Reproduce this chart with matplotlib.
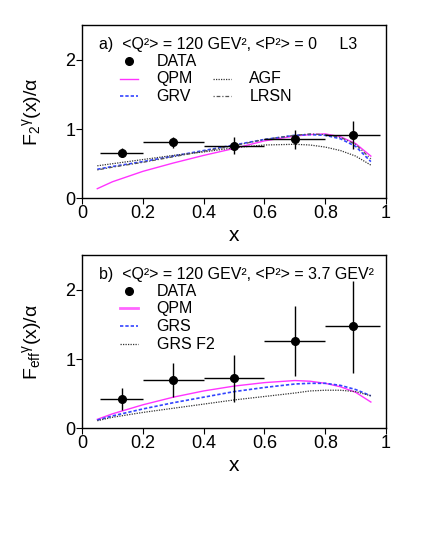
import matplotlib
matplotlib.use('Agg')
import matplotlib.pyplot as plt
import numpy as np

plt.rcParams['font.family'] = ['Liberation Sans', 'DejaVu Sans']
plt.rcParams['mathtext.fontset'] = 'custom'
plt.rcParams['mathtext.rm'] = 'Liberation Sans'
plt.rcParams['mathtext.it'] = 'Liberation Sans'

# data points (same x bins in both panels)
x_data = [0.13, 0.30, 0.50, 0.70, 0.89]
x_lo = [0.06, 0.20, 0.40, 0.60, 0.80]
x_hi = [0.20, 0.40, 0.60, 0.80, 0.98]

# panel a: F2 at P2 = 0
f2_data = [0.66, 0.81, 0.76, 0.85, 0.91]
f2_err = [0.07, 0.08, 0.12, 0.14, 0.20]

# panel b: Feff at P2 = 3.7
feff_data = [0.42, 0.70, 0.72, 1.26, 1.47]
feff_lo = [0.26, 0.45, 0.38, 0.75, 0.80]
feff_hi = [0.58, 0.95, 1.06, 1.77, 2.13]

# theory curves
x_curve = [0.05, 0.10, 0.20, 0.30, 0.40, 0.50, 0.60, 0.70, 0.75, 0.80, 0.85, 0.90, 0.95]
qpm_a = [0.14, 0.24, 0.39, 0.51, 0.62, 0.72, 0.83, 0.90, 0.92, 0.93, 0.89, 0.79, 0.61]
grv_a = [0.42, 0.46, 0.53, 0.61, 0.69, 0.77, 0.85, 0.91, 0.92, 0.91, 0.86, 0.75, 0.53]
agf_a = [0.47, 0.50, 0.56, 0.62, 0.67, 0.73, 0.77, 0.78, 0.77, 0.74, 0.69, 0.61, 0.48]
lrsn_a = [0.41, 0.45, 0.52, 0.60, 0.68, 0.76, 0.85, 0.91, 0.93, 0.92, 0.88, 0.78, 0.57]

qpm_b = [0.13, 0.21, 0.34, 0.45, 0.54, 0.61, 0.66, 0.69, 0.68, 0.65, 0.60, 0.52, 0.38]
grs_b = [0.12, 0.18, 0.28, 0.37, 0.45, 0.53, 0.59, 0.64, 0.65, 0.65, 0.62, 0.56, 0.47]
grsf2_b = [0.11, 0.16, 0.23, 0.29, 0.35, 0.41, 0.46, 0.51, 0.54, 0.55, 0.55, 0.53, 0.47]

x_ticks = [0, 0.2, 0.4, 0.6, 0.8, 1]
x_ticklabels = ['0', '0.2', '0.4', '0.6', '0.8', '1']
y_ticks = [0, 1, 2]

fig = plt.figure(figsize=(4.21, 5.45), dpi=100)
ax1 = fig.add_axes([0.195, 0.636, 0.722, 0.318])
ax2 = fig.add_axes([0.195, 0.214, 0.722, 0.318])

xd = np.array(x_data)
xerr = [xd - np.array(x_lo), np.array(x_hi) - xd]


def style_axes(ax, ylabel):
    ax.set_xlim(0, 1)
    ax.set_ylim(0, 2.5)
    ax.set_xticks(x_ticks)
    ax.set_xticklabels(x_ticklabels)
    ax.set_yticks(y_ticks)
    ax.tick_params(direction='out', length=4, width=0.8, labelsize=13, pad=1)
    ax.set_xlabel('x', fontsize=15, labelpad=3)
    ax.set_ylabel(ylabel, fontsize=14, labelpad=15)
    for s in ax.spines.values():
        s.set_linewidth(1.0)


def legend_entry(ax, x0, y, label, **kw):
    # short handle plus text, in axes coordinates
    if kw.get('marker'):
        ax.plot([x0 + 0.03], [y], transform=ax.transAxes, color='black',
                marker='o', ms=5.5, ls='none', clip_on=False)
    else:
        ax.plot([x0, x0 + 0.06], [y, y], transform=ax.transAxes, clip_on=False, **kw)
    ax.text(x0 + 0.12, y, label, transform=ax.transAxes, fontsize=11.5, va='center')


# panel a
ax1.plot(x_curve, qpm_a, color='#ff33ff', lw=1.0)
ax1.plot(x_curve, grv_a, color='#3344ff', lw=1.2, ls=(0, (2, 1.2)))
ax1.plot(x_curve, agf_a, color='#333333', lw=0.9, ls=(0, (1, 1)))
ax1.plot(x_curve, lrsn_a, color='#555555', lw=0.9, ls=(0, (1, 1.5, 3, 1.5)))
ax1.errorbar(x_data, f2_data, xerr=xerr, yerr=f2_err, fmt='o', color='black',
             ms=5.5, elinewidth=1.0, capsize=0)
ax1.text(0.055, 0.89, 'a)  <Q²> = 120 GEV², <P²> = 0     L3',
         transform=ax1.transAxes, fontsize=11.5, va='center')
legend_entry(ax1, 0.125, 0.79, 'DATA', marker=True)
legend_entry(ax1, 0.125, 0.69, 'QPM', color='#ff33ff', lw=1.0)
legend_entry(ax1, 0.125, 0.588, 'GRV', color='#3344ff', lw=1.2, ls=(0, (2, 1.2)))
legend_entry(ax1, 0.43, 0.69, 'AGF', color='#333333', lw=0.9, ls=(0, (1, 1)))
legend_entry(ax1, 0.43, 0.588, 'LRSN', color='#555555', lw=0.9, ls=(0, (1, 1.5, 3, 1.5)))
style_axes(ax1, r'F$_2$$^\gamma$(x)/$\alpha$')

# panel b
ax2.plot(x_curve, qpm_b, color='#ff33ff', lw=1.0)
ax2.plot(x_curve, grs_b, color='#3344ff', lw=1.2, ls=(0, (2, 1.2)))
ax2.plot(x_curve, grsf2_b, color='#333333', lw=0.9, ls=(0, (1, 1)))
fd = np.array(feff_data)
yerr_b = [fd - np.array(feff_lo), np.array(feff_hi) - fd]
ax2.errorbar(x_data, feff_data, xerr=xerr, yerr=yerr_b, fmt='o', color='black',
             ms=5.5, elinewidth=1.0, capsize=0)
ax2.text(0.055, 0.89, 'b)  <Q²> = 120 GEV², <P²> = 3.7 GEV²',
         transform=ax2.transAxes, fontsize=11.5, va='center')
legend_entry(ax2, 0.125, 0.79, 'DATA', marker=True)
legend_entry(ax2, 0.125, 0.692, 'QPM', color='#ff66ff', lw=2.0)
legend_entry(ax2, 0.125, 0.588, 'GRS', color='#3344ff', lw=1.2, ls=(0, (2, 1.2)))
legend_entry(ax2, 0.125, 0.485, 'GRS F2', color='#333333', lw=0.9, ls=(0, (1, 1)))
style_axes(ax2, r'F$_{\rm eff}$$^\gamma$(x)/$\alpha$')

fig.savefig('out.png', dpi=100)
